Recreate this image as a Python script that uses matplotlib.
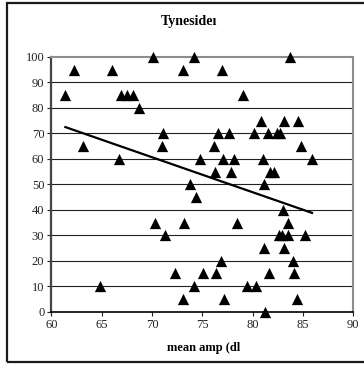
import matplotlib
matplotlib.use("Agg")
import matplotlib.pyplot as plt
from matplotlib.patches import Rectangle
import numpy as np

plt.rcParams['font.family'] = ['Liberation Serif', 'DejaVu Serif']

# mean amplitude (dB) and score for each speaker
amp = [61.4, 62.25, 63.1, 64.8, 66.0, 66.7, 66.9, 67.5, 68.1, 68.7,
       70.1, 70.3, 71.1, 71.0, 71.3, 72.3, 73.1, 73.2, 73.1, 73.8,
       74.2, 74.2, 74.4, 74.8, 75.1, 76.2, 76.3, 76.4, 76.6, 76.9,
       77.0, 77.1, 77.2, 77.7, 77.9, 78.1, 78.4, 79.0, 79.4, 80.1,
       80.3, 80.8, 81.0, 81.1, 81.1, 81.2, 81.5, 81.6, 81.7, 82.1,
       82.4, 82.7, 82.6, 82.9, 83.0, 83.1, 83.1, 83.5, 83.5, 83.7,
       84.0, 84.1, 84.4, 84.5, 84.8, 85.2, 85.9]
score = [85, 95, 65, 10, 95, 60, 85, 85, 85, 80,
         100, 35, 70, 65, 30, 15, 95, 35, 5, 50,
         100, 10, 45, 60, 15, 65, 55, 15, 70, 20,
         95, 60, 5, 70, 55, 60, 35, 85, 10, 70,
         10, 75, 60, 50, 25, 0, 70, 15, 55, 55,
         70, 70, 30, 30, 40, 25, 75, 35, 30, 100,
         20, 15, 5, 75, 65, 30, 60]

xticks = [60, 65, 70, 75, 80, 85, 90]
yticks = [0, 10, 20, 30, 40, 50, 60, 70, 80, 90, 100]

fig = plt.figure(figsize=(3.64, 3.65), dpi=100)
ax = fig.add_axes([51.3 / 364, 1 - 311.7 / 365, 302 / 364, 254.7 / 365])

# chart frame
fig.patches.append(Rectangle((7 / 364, 3 / 365), 1.2, 359 / 365,
                             transform=fig.transFigure, fill=False,
                             edgecolor='#1a1a1a', linewidth=1.6))

for v in yticks[1:-1]:
    ax.axhline(v, color='#222222', linewidth=0.8, zorder=1)

ax.scatter(amp, score, marker='^', s=66, color='black', zorder=3,
           clip_on=False, linewidths=0)

# linear trend over the data range
x = np.array(amp)
k, b = np.polyfit(x, np.array(score), 1)
xs = np.array([x.min(), x.max()])
ax.plot(xs, k * xs + b, color='black', linewidth=1.6, zorder=2)

ax.set_xlim(60, 90)
ax.set_ylim(0, 100)
ax.set_xticks(xticks)
ax.set_yticks(yticks)
ax.tick_params(direction='out', length=3, width=0.8, labelsize=9,
               colors='#222222', pad=2)

ax.spines['top'].set_color('#8c8c8c')
ax.spines['right'].set_color('#8c8c8c')
ax.spines['top'].set_linewidth(1.5)
ax.spines['right'].set_linewidth(1.5)
ax.spines['left'].set_color('#444444')
ax.spines['left'].set_linewidth(1.6)
ax.spines['bottom'].set_color('black')
ax.spines['bottom'].set_linewidth(1.2)

fig.text(189 / 364, 1 - 22 / 365, 'Tynesideı', ha='center', va='center',
         fontsize=10, fontweight='bold')
fig.text(204 / 364, 1 - 348 / 365, 'mean amp (dl', ha='center', va='center',
         fontsize=9, fontweight='bold')

fig.savefig('out.png', dpi=100)
